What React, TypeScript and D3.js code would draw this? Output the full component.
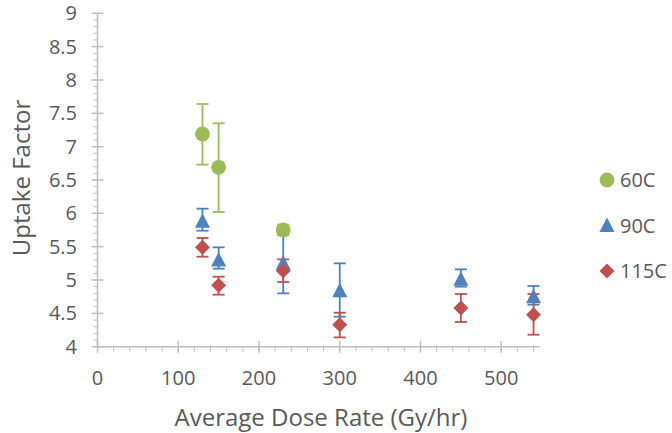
import React from 'react';
import * as d3 from 'd3';

const doseRates = [130, 150, 230, 300, 450, 540];

const seriesNames = ['60C', '90C', '115C'];
const seriesColors = ['#9BBB59', '#4F81BD', '#C0504D'];

// mean, lower bar end, upper bar end
const uptake60 = [7.19, 6.69, 5.75];
const low60 = [6.73, 6.02, 5.67];
const high60 = [7.64, 7.35, 5.83];

const uptake90 = [5.88, 5.3, 5.25, 4.84, 5.01, 4.75];
const low90 = [5.74, 5.17, 4.8, 4.45, 4.9, 4.63];
const high90 = [6.07, 5.49, 5.7, 5.25, 5.16, 4.91];

const uptake115 = [5.49, 4.92, 5.14, 4.33, 4.58, 4.48];
const low115 = [5.35, 4.78, 4.97, 4.14, 4.37, 4.18];
const high115 = [5.63, 5.05, 5.31, 4.51, 4.79, 4.79];

const xTicks = [0, 100, 200, 300, 400, 500];
const yTicks = ['4', '4.5', '5', '5.5', '6', '6.5', '7', '7.5', '8', '8.5', '9'];

const W = 672;
const H = 433;
const font = '"Open Sans", sans-serif';
const textColor = '#595959';
const axisColor = '#BFBFBF';

const x = d3.scaleLinear().domain([0, 548]).range([97.5, 540]);
const y = d3.scaleLinear().domain([4, 9]).range([346.7, 13.3]);

const series = [
  { values: uptake60, low: low60, high: high60 },
  { values: uptake90, low: low90, high: high90 },
  { values: uptake115, low: low115, high: high115 },
];

const marker = (i: number, cx: number, cy: number, color: string, key: string) => {
  if (i === 0) return <circle key={key} cx={cx} cy={cy} r={7.4} fill={color} />;
  if (i === 1)
    return <path key={key} d={`M${cx},${cy - 8}L${cx + 7.5},${cy + 6.5}L${cx - 7.5},${cy + 6.5}Z`} fill={color} />;
  return <path key={key} d={`M${cx},${cy - 7.5}L${cx + 7.5},${cy}L${cx},${cy + 7.5}L${cx - 7.5},${cy}Z`} fill={color} />;
};

export default function App() {
  const yMinor = d3.range(40, 91).map((v) => v / 10);
  const xMinor = d3.range(0, 541, 20);
  const x0 = x(0);
  const yAxisY = y(4);

  return (
    <svg width={W} height={H} style={{ position: 'absolute', left: 0, top: 0, background: '#fff' }}>
      {/* y axis */}
      <line x1={x0} x2={x0} y1={y(9)} y2={yAxisY} stroke={axisColor} strokeWidth={1.5} />
      {yMinor.map((v) => (
        <line key={'ym' + v} x1={x0 - 4} x2={x0} y1={y(v)} y2={y(v)} stroke={axisColor} strokeWidth={1} />
      ))}
      {yTicks.map((t) => (
        <g key={'y' + t}>
          <line x1={x0 - 6} x2={x0 + 6} y1={y(+t)} y2={y(+t)} stroke={axisColor} strokeWidth={1.5} />
          <text x={77} y={y(+t)} dy="0.35em" textAnchor="end" fontFamily={font} fontSize={20} fill={textColor}>
            {t}
          </text>
        </g>
      ))}
      {/* x axis */}
      <line x1={x0} x2={x(548)} y1={yAxisY} y2={yAxisY} stroke={axisColor} strokeWidth={1.5} />
      {xMinor.map((v) => (
        <line key={'xm' + v} x1={x(v)} x2={x(v)} y1={yAxisY} y2={yAxisY + 5} stroke={axisColor} strokeWidth={1} />
      ))}
      {xTicks.map((t) => (
        <g key={'x' + t}>
          <line x1={x(t)} x2={x(t)} y1={yAxisY - 6} y2={yAxisY + 6} stroke={axisColor} strokeWidth={1.5} />
          <text x={x(t)} y={378} dy="0.35em" textAnchor="middle" fontFamily={font} fontSize={20} fill={textColor}>
            {t}
          </text>
        </g>
      ))}
      <text x={321} y={426} textAnchor="middle" fontFamily={font} fontSize={24} fill={textColor}>
        Average Dose Rate (Gy/hr)
      </text>
      <text
        transform={`translate(30,178) rotate(-90)`}
        textAnchor="middle"
        fontFamily={font}
        fontSize={24}
        fill={textColor}
      >
        Uptake Factor
      </text>

      {/* error bars */}
      {series.map((s, i) =>
        s.values.map((v, j) => {
          const cx = x(doseRates[j]);
          return (
            <g key={`e${i}-${j}`} stroke={seriesColors[i]} strokeWidth={1.8}>
              <line x1={cx} x2={cx} y1={y(s.low[j])} y2={y(s.high[j])} />
              <line x1={cx - 6} x2={cx + 6} y1={y(s.low[j])} y2={y(s.low[j])} />
              <line x1={cx - 6} x2={cx + 6} y1={y(s.high[j])} y2={y(s.high[j])} />
            </g>
          );
        })
      )}
      {/* markers */}
      {series.map((s, i) => s.values.map((v, j) => marker(i, x(doseRates[j]), y(v), seriesColors[i], `m${i}-${j}`)))}

      {/* legend */}
      {seriesNames.map((n, i) => {
        const ly = 180 + i * 45.5;
        return (
          <g key={n}>
            {marker(i, 607, ly, seriesColors[i], 'l' + n)}
            <text x={620} y={ly} dy="0.35em" fontFamily={font} fontSize={20} fill={textColor}>
              {n}
            </text>
          </g>
        );
      })}
    </svg>
  );
}
